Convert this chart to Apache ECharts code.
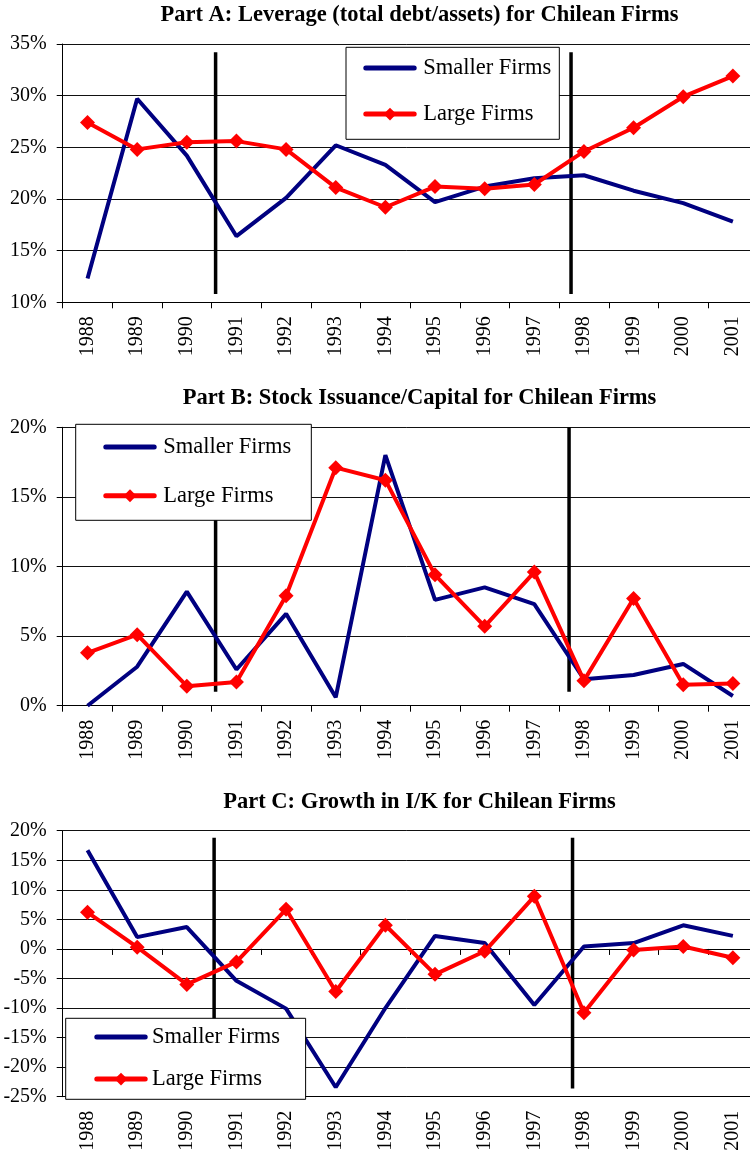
<!DOCTYPE html>
<html>
<head>
<meta charset="utf-8">
<script src="https://cdn.jsdelivr.net/npm/echarts@6/dist/echarts.min.js"></script>
<style>
  html, body { margin: 0; padding: 0; background: #fff; }
  #chart { width: 750px; height: 1154px; }
</style>
</head>
<body>
<div id="chart"></div>
<script>
// ---- data ----
const years = ['1988','1989','1990','1991','1992','1993','1994','1995','1996','1997','1998','1999','2000','2001'];
const seriesNames = ['Smaller Firms', 'Large Firms'];
const titles = [
  'Part A: Leverage (total debt/assets) for Chilean Firms',
  'Part B: Stock Issuance/Capital for Chilean Firms',
  'Part C: Growth in I/K for Chilean Firms'
];
// Part A (%)
const levSmall = [12.3, 29.7, 24.2, 16.4, 20.1, 25.2, 23.3, 19.7, 21.2, 22.0, 22.3, 20.8, 19.6, 17.8];
const levLarge = [27.4, 24.8, 25.5, 25.6, 24.8, 21.1, 19.2, 21.2, 21.0, 21.4, 24.6, 26.9, 29.9, 31.9];
// Part B (%)
const issSmall = [0.0, 2.8, 8.2, 2.6, 6.6, 0.6, 18.0, 7.6, 8.5, 7.3, 1.9, 2.2, 3.0, 0.7];
const issLarge = [3.8, 5.1, 1.4, 1.7, 7.9, 17.1, 16.2, 9.4, 5.7, 9.6, 1.8, 7.7, 1.5, 1.6];
// Part C (%)
const ikSmall = [16.7, 2.0, 3.7, -5.4, -10.1, -23.4, -10.0, 2.2, 1.0, -9.5, 0.4, 1.0, 4.0, 2.2];
const ikLarge = [6.2, 0.3, -6.0, -2.2, 6.7, -7.2, 4.0, -4.3, -0.4, 8.9, -10.8, -0.2, 0.4, -1.5];
// y-axis ranges [min, max, interval]
const yRangeA = [10, 35, 5];
const yRangeB = [0, 20, 5];
const yRangeC = [-25, 20, 5];
// vertical break markers: positions in category-index units, and vertical spans (%)
const breakPosA = [2.58, 9.74];
const breakSpanA = [10.8, 34.2];
const breakPosB = [2.58, 9.70];
const breakSpanB = [1.0, 20.0];
const breakPosC = [2.55, 9.77];
const breakSpanC = [-23.6, 18.8];

// ---- styling ----
const FONT = 'Liberation Serif';
const BLUE = '#000080';
const RED = '#ff0000';
const GRID_LEFT = 62.7;
const GRID_WIDTH = 695;
const grids = [
  { top: 44, height: 258.3 },
  { top: 427.3, height: 278.4 },
  { top: 830.7, height: 266 }
];
const titleTops = [4, 387, 791];
const yRanges = [yRangeA, yRangeB, yRangeC];
const breakPos = [breakPosA, breakPosB, breakPosC];
const breakSpan = [breakSpanA, breakSpanB, breakSpanC];
const dataSets = [[levSmall, levLarge], [issSmall, issLarge], [ikSmall, ikLarge]];
const legendBoxes = [
  { left: 346, top: 47.3, padding: [9.15, 8, 13.75, 17.3], itemGap: 23.1, textGap: 9 },
  { left: 75.7, top: 424.3, padding: [11.15, 20, 13.05, 27.6], itemGap: 25.8, textGap: 9 },
  { left: 65.7, top: 1018.3, padding: [7.15, 25.6, 8.75, 28.6], itemGap: 19.1, textGap: 6.7 }
];

const option = {
  animation: false,
  backgroundColor: '#ffffff',
  title: [],
  legend: [],
  grid: [],
  xAxis: [],
  yAxis: [],
  series: []
};

for (let p = 0; p < 3; p++) {
  option.title.push({
    text: titles[p],
    left: 419.5,
    top: titleTops[p],
    textAlign: 'center',
    padding: 0,
    textStyle: { fontFamily: FONT, fontWeight: 'bold', fontSize: 22.5, color: '#000' }
  });
  option.grid.push({
    left: GRID_LEFT, top: grids[p].top, width: GRID_WIDTH, height: grids[p].height,
    containLabel: false, outerBoundsMode: 'none'
  });
  const lb = legendBoxes[p];
  option.legend.push({
    data: [
      { name: seriesNames[0], itemStyle: { opacity: 0 } },
      { name: seriesNames[1] }
    ],
    orient: 'vertical',
    left: lb.left, top: lb.top,
    padding: lb.padding,
    itemGap: lb.itemGap,
    itemWidth: 48.4, itemHeight: 16,
    backgroundColor: '#fff',
    borderColor: '#000', borderWidth: 1,
    selectedMode: false,
    z: 20,
    lineStyle: { width: 5, cap: 'round' },
    textStyle: { fontFamily: FONT, fontSize: 22.5, color: '#000', padding: [0, 0, 0, lb.textGap - 5] }
  });

  const catBase = option.xAxis.length;
  option.xAxis.push({
    type: 'category', gridIndex: p, data: years, position: 'bottom', boundaryGap: true,
    axisLine: { show: true, onZero: false, lineStyle: { color: '#000', width: 1 } },
    axisTick: { show: p !== 2, length: 6, lineStyle: { color: '#000', width: 1 } },
    axisLabel: { rotate: 90, margin: 14, fontFamily: FONT, fontSize: 20, color: '#000' },
    splitLine: { show: false }
  });
  option.xAxis.push({
    type: 'value', gridIndex: p, min: -0.5, max: 13.5, show: false,
    splitLine: { show: false }
  });
  const valueXIndex = catBase + 1;
  if (p === 2) {
    option.xAxis.push({
      type: 'category', gridIndex: p, data: years, position: 'bottom', boundaryGap: true,
      axisLine: { show: true, onZero: true, onZeroAxisIndex: 2, lineStyle: { color: '#000', width: 1 } },
      axisTick: { show: true, length: 6, lineStyle: { color: '#000', width: 1 } },
      axisLabel: { show: false },
      splitLine: { show: false }
    });
  }

  const yr = yRanges[p];
  option.yAxis.push({
    type: 'value', gridIndex: p, min: yr[0], max: yr[1], interval: yr[2],
    axisLine: { show: true, onZero: false, lineStyle: { color: '#000', width: 1 } },
    axisTick: { show: true, length: 6, lineStyle: { color: '#000', width: 1 } },
    axisLabel: { margin: 16, fontFamily: FONT, fontSize: 20, color: '#000', formatter: '{value}%' },
    splitLine: { show: true, lineStyle: { color: '#111', width: 1 } }
  });

  breakPos[p].forEach(function (bx) {
    option.series.push({
      type: 'line', xAxisIndex: valueXIndex, yAxisIndex: p,
      data: [[bx, breakSpan[p][0]], [bx, breakSpan[p][1]]],
      symbol: 'none', silent: true, z: 2,
      lineStyle: { color: '#000', width: 3.5 }
    });
  });

  option.series.push({
    name: seriesNames[0], type: 'line', xAxisIndex: catBase, yAxisIndex: p,
    data: dataSets[p][0], symbol: 'none', z: 3,
    lineStyle: { color: BLUE, width: 4 }, itemStyle: { color: BLUE }
  });
  option.series.push({
    name: seriesNames[1], type: 'line', xAxisIndex: catBase, yAxisIndex: p,
    data: dataSets[p][1], symbol: 'diamond', symbolSize: 15, z: 4,
    lineStyle: { color: RED, width: 4 }, itemStyle: { color: RED }
  });
}

const chart = echarts.init(document.getElementById('chart'), null, { renderer: 'canvas' });
chart.setOption(option);
</script>
</body>
</html>
